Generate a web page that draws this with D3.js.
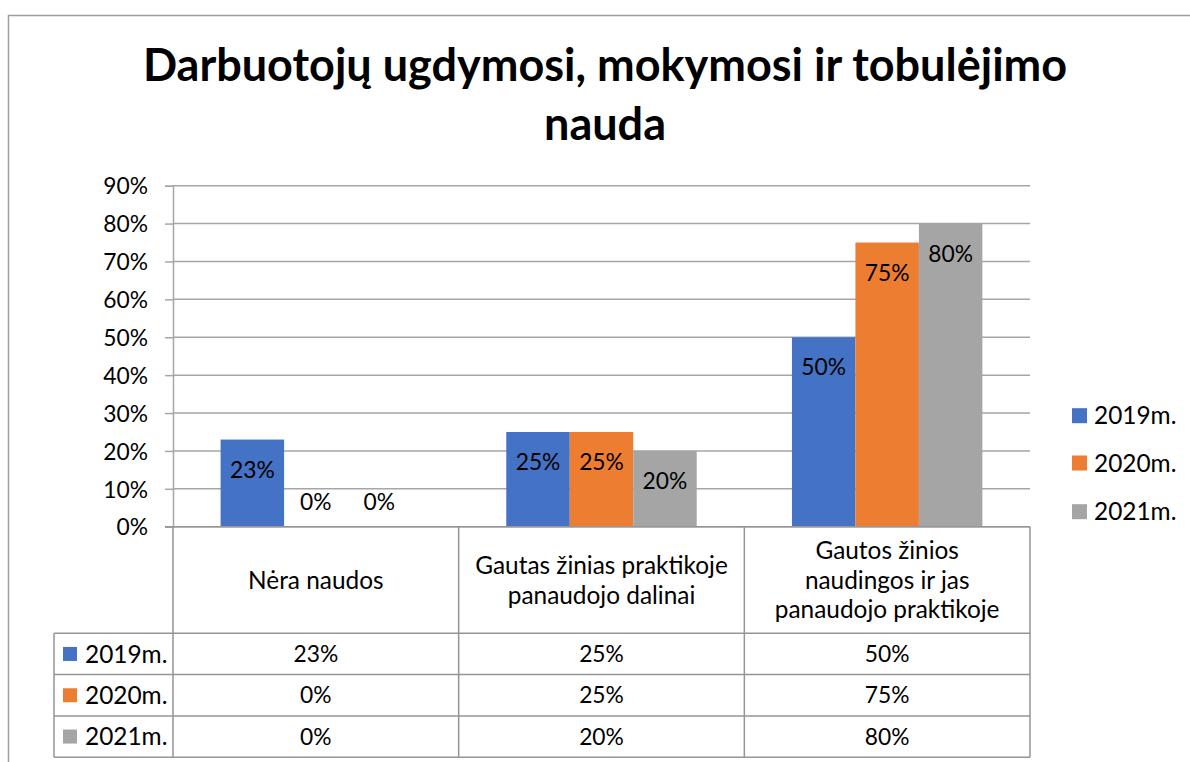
<!DOCTYPE html>
<html>
<head>
<meta charset="utf-8">
<script src="https://cdn.jsdelivr.net/npm/d3@7"></script>
<style>
  body { margin: 0; background: #fff; }
  svg text { font-family: Lato, "Open Sans", sans-serif; fill: #000; }
</style>
</head>
<body>
<div id="chart"></div>
<script>
// D A T A
var categories = [
    ["Nėra naudos"],
    ["Gautas žinias praktikoje", "panaudojo dalinai"],
    ["Gautos žinios", "naudingos ir jas", "panaudojo praktikoje"]
];
var seriesNames = ["2019m.", "2020m.", "2021m."];
var values2019 = [23, 25, 50];
var values2020 = [0, 25, 75];
var values2021 = [0, 20, 80];
var yTicks = [0, 10, 20, 30, 40, 50, 60, 70, 80, 90];
var titleLines = ["Darbuotojų ugdymosi, mokymosi ir tobulėjimo", "nauda"];

var colors = ["#4472C4", "#ED7D31", "#A5A5A5"];
var series = [values2019, values2020, values2021];

const width = 1190;
const height = 762;
const numSize = '22.8px', textSize = '24.4px';

// plot area
const plotLeft = 173, plotRight = 1030, plotTop = 185.7, plotBottom = 526.7;
const rowH = 41.3, headerBottom = 633.3, tableLeft = 54;

var svg = d3.select('#chart').append('svg')
    .attr('width', width)
    .attr('height', height);

// F R A M E
svg.append('rect')
    .attr('x', 8.5).attr('y', 15.5)
    .attr('width', 1300).attr('height', 900)
    .attr('fill', 'none').attr('stroke', '#a0a0a0').attr('stroke-width', 1.5);

// T I T L E
svg.selectAll('.title').data(titleLines).enter().append('text')
    .attr('class', 'title')
    .attr('x', 605)
    .attr('y', function (d, i) { return 81 + i * 59; })
    .attr('text-anchor', 'middle')
    .style('font-weight', 'bold')
    .style('font-size', '45px')
    .text(function (d) { return d; });

// S C A L E S
var x = d3.scaleBand().domain(d3.range(categories.length)).range([plotLeft, plotRight]);
var x1 = d3.scaleBand().domain(d3.range(seriesNames.length))
    .range([0, x.bandwidth()]).paddingInner(0).paddingOuter(0.75);
var y = d3.scaleLinear().domain([0, 90]).range([plotBottom, plotTop]);

// G R I D  L I N E S
svg.selectAll('.grid').data(yTicks).enter().append('line')
    .attr('class', 'grid')
    .attr('x1', plotLeft).attr('x2', plotRight)
    .attr('y1', function (d) { return y(d); })
    .attr('y2', function (d) { return y(d); })
    .attr('stroke', '#a6a6a6').attr('stroke-width', 1.5);

// Y  A X I S
var yAxis = svg.append('g')
    .attr('transform', 'translate(' + plotLeft + ',0)')
    .call(d3.axisLeft(y).tickValues(yTicks).tickSize(8).tickPadding(17)
        .tickFormat(function (d) { return d + '%'; }));
yAxis.select('.domain').attr('stroke', '#a6a6a6').attr('stroke-width', 1.5);
yAxis.selectAll('.tick line').attr('stroke', '#a6a6a6').attr('stroke-width', 1.5);
yAxis.selectAll('.tick text').style('font-size', numSize).attr('dy', '0.36em');

// B A R S
series.forEach(function (vals, s) {
    svg.selectAll('.bar' + s).data(vals).enter().append('rect')
        .attr('class', 'bar' + s)
        .attr('x', function (d, i) { return x(i) + x1(s); })
        .attr('width', x1.bandwidth())
        .attr('y', function (d) { return y(d); })
        .attr('height', function (d) { return plotBottom - y(d); })
        .attr('fill', colors[s]);

    svg.selectAll('.lbl' + s).data(vals).enter().append('text')
        .attr('class', 'lbl' + s)
        .attr('x', function (d, i) { return x(i) + x1(s) + x1.bandwidth() / 2; })
        .attr('y', function (d) { return d === 0 ? plotBottom - 25 : y(d) + 30; })
        .attr('dy', '0.36em')
        .attr('text-anchor', 'middle')
        .style('font-size', numSize)
        .text(function (d) { return d + '%'; });
});

// D A T A  T A B L E
var tableColor = '#959595';
var hLines = [plotBottom, headerBottom, headerBottom + rowH, headerBottom + 2 * rowH, headerBottom + 3 * rowH];
svg.selectAll('.hline').data(hLines).enter().append('line')
    .attr('class', 'hline')
    .attr('x1', function (d, i) { return i === 0 ? plotLeft - 8 : tableLeft; })
    .attr('x2', plotRight)
    .attr('y1', function (d) { return d; })
    .attr('y2', function (d) { return d; })
    .attr('stroke', tableColor).attr('stroke-width', 1.5);

var vLines = d3.range(categories.length + 1).map(function (i) {
    return i < categories.length ? x(i) : plotRight;
});
svg.selectAll('.vline').data(vLines).enter().append('line')
    .attr('class', 'vline')
    .attr('x1', function (d) { return d; })
    .attr('x2', function (d) { return d; })
    .attr('y1', plotBottom)
    .attr('y2', hLines[4])
    .attr('stroke', tableColor).attr('stroke-width', 1.5);
svg.append('line')
    .attr('x1', tableLeft).attr('x2', tableLeft)
    .attr('y1', headerBottom).attr('y2', hLines[4])
    .attr('stroke', tableColor).attr('stroke-width', 1.5);

// category headers
categories.forEach(function (lines, i) {
    var cy = (plotBottom + headerBottom) / 2;
    var lh = 29.5;
    svg.append('text')
        .attr('x', x(i) + x.bandwidth() / 2)
        .attr('text-anchor', 'middle')
        .style('font-size', textSize)
        .selectAll('tspan').data(lines).enter().append('tspan')
        .attr('x', x(i) + x.bandwidth() / 2)
        .attr('y', function (d, k) { return cy + (k - (lines.length - 1) / 2) * lh; })
        .attr('dy', '0.36em')
        .text(function (d) { return d; });
});

// table rows
seriesNames.forEach(function (name, s) {
    var cy = headerBottom + rowH * s + rowH / 2;
    svg.append('rect')
        .attr('x', 63).attr('y', cy - 7)
        .attr('width', 14).attr('height', 14)
        .attr('fill', colors[s]);
    svg.append('text')
        .attr('x', 85).attr('y', cy).attr('dy', '0.36em')
        .style('font-size', textSize)
        .text(name);
    svg.selectAll('.cell' + s).data(series[s]).enter().append('text')
        .attr('class', 'cell' + s)
        .attr('x', function (d, i) { return x(i) + x.bandwidth() / 2; })
        .attr('y', cy).attr('dy', '0.36em')
        .attr('text-anchor', 'middle')
        .style('font-size', numSize)
        .text(function (d) { return d + '%'; });
});

// L E G E N D
var legendY = [415.7, 463, 511.7];
svg.selectAll('.legsq').data(seriesNames).enter().append('rect')
    .attr('class', 'legsq')
    .attr('x', 1072)
    .attr('y', function (d, i) { return legendY[i] - 7.5; })
    .attr('width', 15).attr('height', 15)
    .attr('fill', function (d, i) { return colors[i]; });
svg.selectAll('.legtx').data(seriesNames).enter().append('text')
    .attr('class', 'legtx')
    .attr('x', 1094)
    .attr('y', function (d, i) { return legendY[i]; })
    .attr('dy', '0.36em')
    .style('font-size', textSize)
    .text(function (d) { return d; });
</script>
</body>
</html>
